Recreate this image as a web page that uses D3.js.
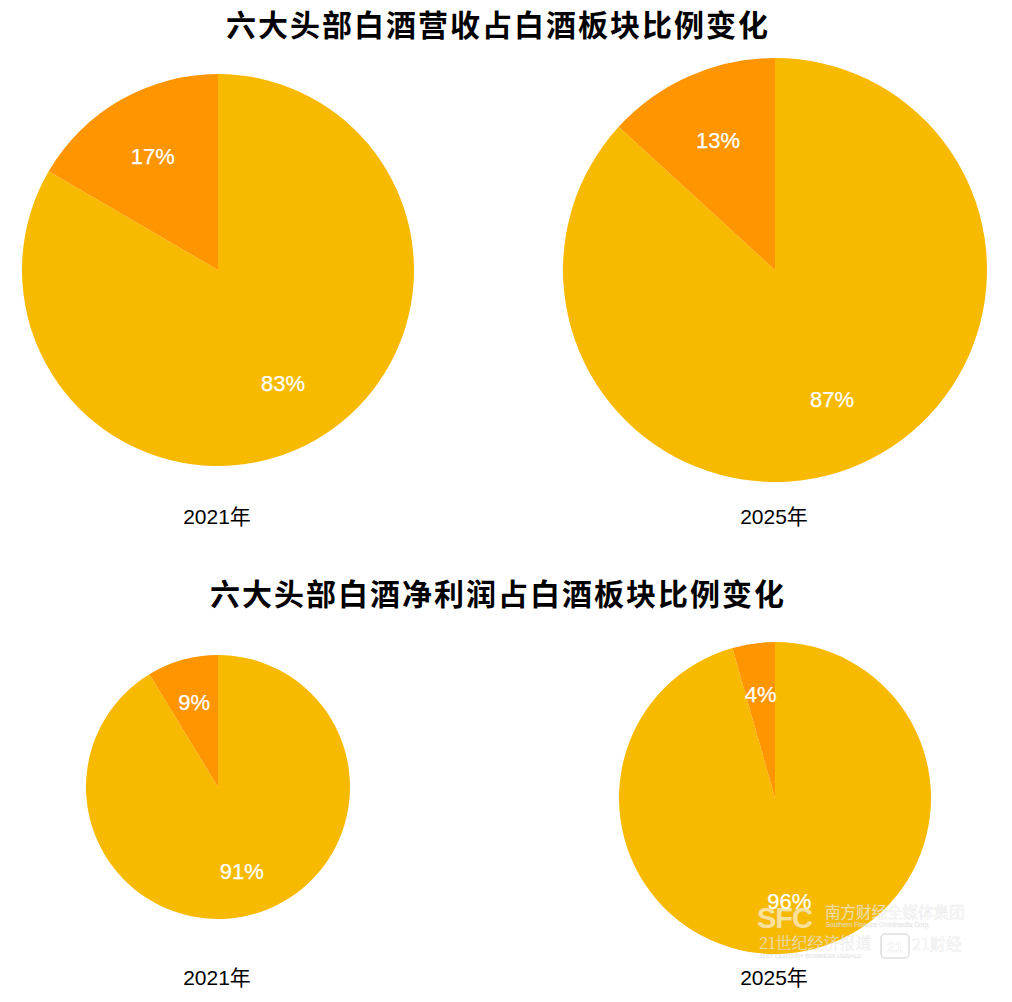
<!DOCTYPE html>
<html><head><meta charset="utf-8">
<script src="https://cdn.jsdelivr.net/npm/d3@7"></script>
<style>
html,body{margin:0;padding:0;background:#fff;}
svg{display:block;}
</style></head>
<body>
<script>
// ---- data ----
const chartTitles = ["六大头部白酒营收占白酒板块比例变化", "六大头部白酒净利润占白酒板块比例变化"];
const years = ["2021年", "2025年"];
const sliceNames = ["六大头部白酒", "其他"];
// shares (%); labels show rounded values
const revenueShares2021 = [83.4, 16.6];
const revenueShares2025 = [86.8, 13.2];
const profitShares2021 = [91.3, 8.7];
const profitShares2025 = [95.6, 4.4];
const revenueLabels2021 = ["83%", "17%"];
const revenueLabels2025 = ["87%", "13%"];
const profitLabels2021 = ["91%", "9%"];
const profitLabels2025 = ["96%", "4%"];
const sliceColors = ["#F8BA00", "#FF9500"];

const W = 1012, H = 1002;
const svg = d3.select("body").append("svg").attr("width", W).attr("height", H);

const color = d3.scaleOrdinal().domain(sliceNames).range(sliceColors);
const pie = d3.pie().sort(null).value(d => d.v);

const pies = [
  {shares: revenueShares2021, labels: revenueLabels2021, cx: 218, cy: 270, r: 196, year: years[0], yy: 524},
  {shares: revenueShares2025, labels: revenueLabels2025, cx: 775, cy: 270, r: 212, year: years[1], yy: 524},
  {shares: profitShares2021, labels: profitLabels2021, cx: 218, cy: 787, r: 132, year: years[0], yy: 985},
  {shares: profitShares2025, labels: profitLabels2025, cx: 775, cy: 798, r: 156, year: years[1], yy: 985}
];

const titleFont = "'Noto Sans CJK SC', sans-serif";
const latinFont = "'Liberation Sans', Arial, 'Noto Sans CJK SC', sans-serif";

svg.append("text").attr("x", 498).attr("y", 36).attr("text-anchor", "middle")
  .attr("font-family", titleFont).attr("font-weight", 700).attr("font-size", 30)
  .attr("letter-spacing", 2).attr("fill", "#000").text(chartTitles[0]);
svg.append("text").attr("x", 498).attr("y", 605).attr("text-anchor", "middle")
  .attr("font-family", titleFont).attr("font-weight", 700).attr("font-size", 30)
  .attr("letter-spacing", 2).attr("fill", "#000").text(chartTitles[1]);

pies.forEach(p => {
  const data = sliceNames.map((n, i) => ({n, v: p.shares[i], label: p.labels[i]}));
  const arcs = pie(data);
  const arc = d3.arc().innerRadius(0).outerRadius(p.r);
  const labelArc = d3.arc().innerRadius(p.r * 0.667).outerRadius(p.r * 0.667);
  const g = svg.append("g").attr("transform", `translate(${p.cx},${p.cy})`);
  g.selectAll("path").data(arcs).join("path")
    .attr("d", arc).attr("fill", d => color(d.data.n));
  g.selectAll("text").data(arcs).join("text")
    .attr("transform", d => `translate(${labelArc.centroid(d)})`)
    .attr("text-anchor", "middle").attr("dominant-baseline", "central")
    .attr("font-family", latinFont).attr("font-size", 22).attr("fill", "#fff")
    .attr("stroke", "#fff").attr("stroke-width", 0.25)
    .text(d => d.data.label);
  svg.append("text").attr("x", p.cx - 1).attr("y", p.yy).attr("text-anchor", "middle")
    .attr("font-family", latinFont).attr("font-size", 21).attr("fill", "#000")
    .text(p.year);
});

// watermark
const wm = svg.append("g").attr("fill", "#ffffff").attr("fill-opacity", 0.6)
  .attr("stroke", "#c8c8c8").attr("stroke-opacity", 0.35).attr("stroke-width", 0.6);
wm.append("text").attr("x", 757).attr("y", 928).attr("font-family", latinFont)
  .attr("font-weight", 700).attr("font-size", 29).attr("letter-spacing", -1).text("SFC");
wm.append("text").attr("x", 825).attr("y", 918).attr("font-family", titleFont)
  .attr("font-size", 15.5).text("南方财经全媒体集团");
wm.append("text").attr("x", 826).attr("y", 927).attr("font-family", latinFont)
  .attr("font-size", 6.5).text("Southern Finance Omnimedia Corp.");
wm.append("text").attr("x", 759).attr("y", 949).attr("font-family", "'Noto Serif CJK SC', 'Noto Sans CJK SC', serif")
  .attr("font-size", 16).text("21世纪经济报道");
wm.append("text").attr("x", 759).attr("y", 958).attr("font-family", latinFont)
  .attr("font-size", 6).text("21ST CENTURY BUSINESS HERALD");
wm.append("rect").attr("x", 881).attr("y", 934).attr("width", 28).attr("height", 24).attr("rx", 4)
  .attr("fill", "none").attr("stroke-opacity", 0.6).attr("stroke-width", 1.5);
wm.append("text").attr("x", 895).attr("y", 952).attr("text-anchor", "middle").attr("font-family", latinFont)
  .attr("font-weight", 700).attr("font-size", 14).text("21");
wm.append("text").attr("x", 912).attr("y", 950).attr("font-family", "'Noto Sans CJK SC', serif")
  .attr("font-size", 16).text("21财经");
</script>
</body></html>
